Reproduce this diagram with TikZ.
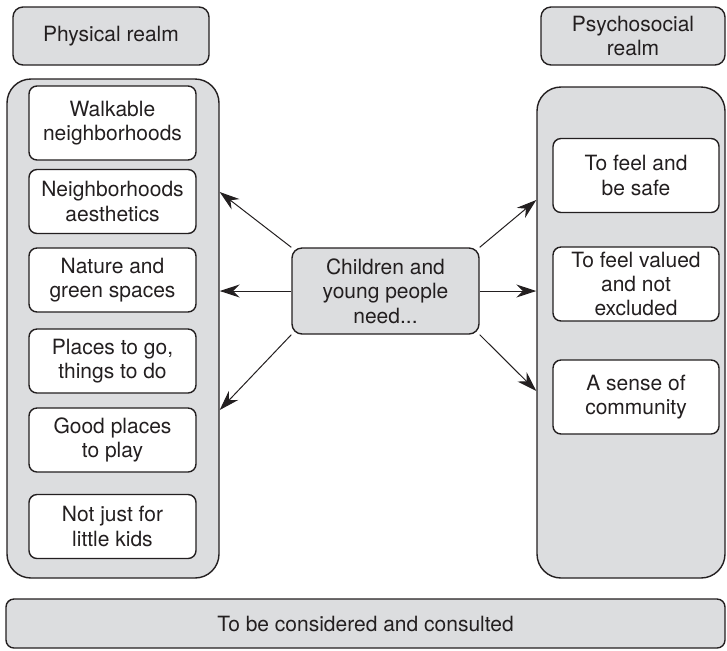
\documentclass[tikz,border=0pt]{standalone}
\usepackage{fontspec}
\setmainfont{TeX Gyre Heros}
\usetikzlibrary{arrows.meta,positioning}
\definecolor{ink}{HTML}{231F20}
\definecolor{panel}{HTML}{DCDDDF}

\begin{document}
\begin{tikzpicture}[
  x=0.5pt,y=-0.5pt,
  font=\fontsize{10.5}{12.2}\selectfont,text=ink,
  realm/.style={draw=ink,fill=panel,rounded corners=5pt,line width=0.7pt,
                align=center,inner sep=0pt,minimum height=29pt},
  column/.style={draw=ink,fill=panel,rounded corners=12pt,line width=0.7pt,inner sep=0pt},
  need/.style={draw=ink,fill=white,rounded corners=4pt,line width=0.7pt,align=center,
               inner sep=0pt,minimum width=83.5pt,minimum height=32pt},
  link/.style={-{Stealth[length=10pt,width=6.5pt]},draw=ink,line width=0.5pt}]
\useasboundingbox (0,0) rectangle (727,650);
% headers and the two columns
\node[realm,minimum width=98pt] (physhead) at (111,36) {Physical realm};
\node[realm,minimum width=92pt] (psyhead) at (633,36) {Psychosocial\\realm};
\node[column,minimum width=106pt,minimum height=249.5pt] (phys) at (113,328.5) {};
\node[column,minimum width=94pt,minimum height=245.5pt] (psy) at (631,332.5) {};
% physical needs
\node[need,minimum height=37pt] (walk) at (112.5,123) {Walkable\\neighborhoods};
\node[need] (aest) at (112.5,201.5) {Neighborhoods\\aesthetics};
\node[need] (green) at (112.5,280) {Nature and\\green spaces};
\node[need] (places) at (112.5,361) {Places to go,\\things to do};
\node[need] (play) at (112.5,440) {Good places\\to play};
\node[need] (kids) at (112.5,526.5) {Not just for\\little kids};
% psychosocial needs
\node[need,minimum width=83pt,minimum height=37pt] (safe) at (636,175.5) {To feel and\\be safe};
\node[need,minimum width=83pt,minimum height=37pt] (valued) at (636,284) {To feel valued\\and not\\excluded};
\node[need,minimum width=83pt,minimum height=37pt] (community) at (636,397) {A sense of\\community};
% hub and bottom bar
\node[realm,minimum width=93.5pt,minimum height=43pt] (hub) at (385.5,291)
  {Children and\\young people\\need...};
\node[realm,rounded corners=4pt,minimum width=359.5pt,minimum height=24.5pt] (consult)
  at (365.5,623.5) {To be considered and consulted};
% arrow ends on the columns
\coordinate (l1) at (phys.east |- 0,192);
\coordinate (l3) at (phys.east |- 0,410);
\coordinate (r1) at (psy.west |- 0,200);
\coordinate (r3) at (psy.west |- 0,391);
\draw[link] (hub.north west) -- (l1);
\draw[link] (hub.west) -- (phys.east |- hub.west);
\draw[link] (hub.south west) -- (l3);
\draw[link] (hub.north east) -- (r1);
\draw[link] (hub.east) -- (psy.west |- hub.east);
\draw[link] (hub.south east) -- (r3);
\end{tikzpicture}
\end{document}
